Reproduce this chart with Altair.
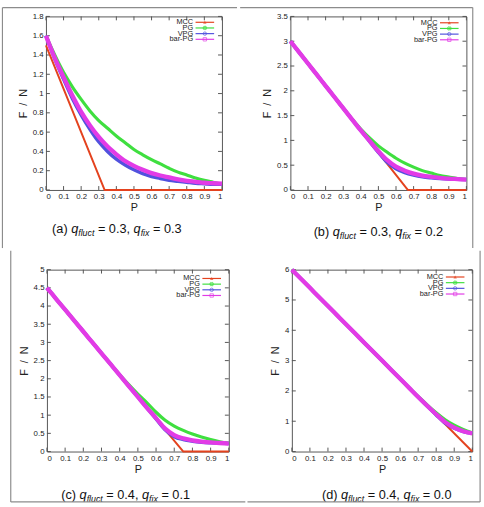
import altair as alt
import pandas as pd

# ---------------- data ----------------
P = [0.0, 0.05, 0.1, 0.15, 0.2, 0.25, 0.3, 0.35, 0.4, 0.45, 0.5,
     0.55, 0.6, 0.65, 0.7, 0.75, 0.8, 0.85, 0.9, 0.95, 1.0]
X_TICKS = [0, 0.1, 0.2, 0.3, 0.4, 0.5, 0.6, 0.7, 0.8, 0.9, 1]
SERIES = ["MCC", "PG", "VPG", "bar-PG"]

A_MCC_P = [0.0, 0.333, 1.0]
A_MCC = [1.5, 0.0, 0.0]
A_PG = [1.60, 1.40, 1.22, 1.07, 0.94, 0.82, 0.72, 0.64, 0.56, 0.49, 0.42,
        0.365, 0.315, 0.27, 0.225, 0.185, 0.155, 0.125, 0.10, 0.08, 0.06]
A_VPG = [1.60, 1.36, 1.15, 0.95, 0.78, 0.63, 0.50, 0.40, 0.32, 0.26, 0.21,
         0.17, 0.14, 0.12, 0.10, 0.09, 0.08, 0.07, 0.065, 0.06, 0.06]
A_BAR = [1.60, 1.37, 1.17, 0.98, 0.81, 0.67, 0.55, 0.45, 0.37, 0.30, 0.25,
         0.21, 0.175, 0.15, 0.13, 0.11, 0.095, 0.085, 0.075, 0.07, 0.065]
A_YT = [0, 0.2, 0.4, 0.6, 0.8, 1, 1.2, 1.4, 1.6, 1.8]

B_MCC_P = [0.0, 0.667, 1.0]
B_MCC = [3.0, 0.0, 0.0]
B_PG = [3.0, 2.775, 2.55, 2.325, 2.1, 1.875, 1.65, 1.43, 1.23, 1.05, 0.89,
        0.76, 0.64, 0.54, 0.46, 0.39, 0.34, 0.29, 0.26, 0.23, 0.21]
B_VPG = [3.0, 2.775, 2.55, 2.325, 2.1, 1.875, 1.65, 1.425, 1.2, 0.98, 0.76,
         0.56, 0.43, 0.35, 0.30, 0.265, 0.245, 0.23, 0.22, 0.215, 0.21]
B_BAR = [3.0, 2.775, 2.55, 2.325, 2.1, 1.875, 1.65, 1.425, 1.2, 0.99, 0.78,
         0.60, 0.47, 0.39, 0.33, 0.29, 0.265, 0.245, 0.23, 0.22, 0.21]
B_YT = [0, 0.5, 1, 1.5, 2, 2.5, 3, 3.5]

C_MCC_P = [0.0, 0.75, 1.0]
C_MCC = [4.5, 0.0, 0.0]
C_PG = [4.5, 4.2, 3.9, 3.6, 3.3, 3.0, 2.7, 2.4, 2.11, 1.84, 1.58,
        1.34, 1.08, 0.86, 0.70, 0.58, 0.48, 0.40, 0.33, 0.27, 0.23]
C_VPG = [4.5, 4.2, 3.9, 3.6, 3.3, 3.0, 2.7, 2.4, 2.1, 1.8, 1.5,
         1.2, 0.90, 0.60, 0.41, 0.33, 0.285, 0.255, 0.24, 0.23, 0.22]
C_BAR = [4.5, 4.2, 3.9, 3.6, 3.3, 3.0, 2.7, 2.4, 2.1, 1.8, 1.5,
         1.2, 0.92, 0.63, 0.45, 0.36, 0.31, 0.275, 0.25, 0.235, 0.22]
C_YT = [0, 0.5, 1, 1.5, 2, 2.5, 3, 3.5, 4, 4.5, 5]

D_MCC_P = [0.0, 1.0]
D_MCC = [6.0, 0.0]
D_PG = [6.0, 5.7, 5.4, 5.1, 4.8, 4.5, 4.2, 3.9, 3.6, 3.3, 3.0,
        2.7, 2.4, 2.1, 1.82, 1.54, 1.28, 1.05, 0.87, 0.73, 0.62]
D_VPG = [6.0, 5.7, 5.4, 5.1, 4.8, 4.5, 4.2, 3.9, 3.6, 3.3, 3.0,
         2.7, 2.4, 2.1, 1.8, 1.50, 1.21, 0.94, 0.77, 0.66, 0.60]
D_BAR = [6.0, 5.7, 5.4, 5.1, 4.8, 4.5, 4.2, 3.9, 3.6, 3.3, 3.0,
         2.7, 2.4, 2.1, 1.8, 1.51, 1.23, 0.97, 0.79, 0.67, 0.60]
D_YT = [0, 1, 2, 3, 4, 5, 6]

CAPTIONS = [("(a)", "0.3", "0.3"), ("(b)", "0.3", "0.2"),
            ("(c)", "0.4", "0.1"), ("(d)", "0.4", "0.0")]

FONT = "Liberation Sans"
COLORS = {"MCC": "#e4421e", "PG": "#3fdf3f", "VPG": "#5151de", "bar-PG": "#e23be6"}
WIDTHS = {"MCC": 2.0, "PG": 3.2, "VPG": 3.6, "bar-PG": 4.4}
SHAPES = {"MCC": "triangle-up", "PG": "cross", "VPG": "circle", "bar-PG": "square"}
TICK = "#555555"
FRAME = "#8c8c8c"
TEXT = "#222222"

AW = {' ': 278, '(': 333, ')': 333, 'a': 556, 'b': 556, 'c': 500, 'd': 556,
      'q': 556, 'f': 278, 'l': 222, 'u': 556, 't': 278, 'i': 222, 'x': 500,
      '=': 584, '.': 278, ',': 278}


def tw(s, size):
    return sum(AW.get(ch, 556) for ch in s) * size / 1000.0


ONE = pd.DataFrame({"k": [0]})
FL, FR, FT, FB = 1.5, 480.5, 1.5, 505.5


def panel(idx, mcc_p, mcc, pg, vpg, bar, yt, ymax, ox, oy, w, h, quad,
          cap_cx, cap_base, leg_top):
    xs = alt.Scale(domain=[0, 1], nice=False, zero=False)
    ys = alt.Scale(domain=[0, ymax], nice=False, zero=False)
    xax = alt.Axis(values=X_TICKS, format="~g", title="P")
    yax = alt.Axis(values=yt, format="~g", title="F\u00a0 /\u00a0 N")
    X = alt.X("P:Q", scale=xs, axis=xax)
    Y = alt.Y("v:Q", scale=ys, axis=yax)
    layers = []

    # invisible rectangle that sets this cell's extent in the grid layout
    qx0, qy0, qx1, qy1 = quad
    layers.append(alt.Chart(ONE).mark_rect(opacity=0).encode(
        x=alt.value(qx0 - ox), x2=alt.value(qx1 - ox),
        y=alt.value(qy0 - oy), y2=alt.value(qy1 - oy)))

    # inward ticks on all four sides
    dfx = pd.DataFrame({"P": X_TICKS})
    dfy = pd.DataFrame({"v": yt})
    layers.append(alt.Chart(dfx).mark_rule(color=TICK, strokeWidth=1).encode(
        x=X, y=alt.value(h), y2=alt.value(h - 4)))
    layers.append(alt.Chart(dfx).mark_rule(color=TICK, strokeWidth=1).encode(
        x=X, y=alt.value(0), y2=alt.value(4)))
    layers.append(alt.Chart(dfy).mark_rule(color=TICK, strokeWidth=1).encode(
        y=Y, x=alt.value(0), x2=alt.value(4)))
    layers.append(alt.Chart(dfy).mark_rule(color=TICK, strokeWidth=1).encode(
        y=Y, x=alt.value(w - 4), x2=alt.value(w)))

    data = [("MCC", mcc_p, mcc), ("PG", P, pg), ("VPG", P, vpg), ("bar-PG", P, bar)]
    for name, px, vals in data:
        df = pd.DataFrame({"P": px, "v": vals})
        interp = "linear" if name == "MCC" else "monotone"
        layers.append(alt.Chart(df).mark_line(
            color=COLORS[name], strokeWidth=WIDTHS[name], interpolate=interp,
            strokeJoin="round").encode(x=X, y=Y))

    # key
    for i, name in enumerate(SERIES):
        yy = leg_top + i * 5.8
        layers.append(alt.Chart(ONE).mark_text(
            text=name, align="right", baseline="middle", fontSize=7.5,
            font=FONT, color=TEXT).encode(x=alt.value(w - 29.5), y=alt.value(yy)))
        layers.append(alt.Chart(ONE).mark_rule(
            color=COLORS[name], strokeWidth=1.2).encode(
            x=alt.value(w - 27), x2=alt.value(w - 8), y=alt.value(yy)))
        layers.append(alt.Chart(ONE).mark_point(
            shape=SHAPES[name], size=12, filled=(name == "MCC"),
            color=COLORS[name], strokeWidth=1,
            angle=45 if name == "PG" else 0).encode(
            x=alt.value(w - 17.5), y=alt.value(yy)))

    # caption with italic subscripts
    letter, qf, qx = CAPTIONS[idx]
    pieces = [(letter + " ", 13, "normal", 0), ("q", 13, "italic", 0),
              ("fluct", 9, "italic", 3), (" = " + qf + ", ", 13, "normal", 0),
              ("q", 13, "italic", 0), ("fix", 9, "italic", 3),
              (" = " + qx, 13, "normal", 0)]
    total = sum(tw(s, fs) for s, fs, _, _ in pieces)
    cx = cap_cx - total / 2.0
    for s, fs, style, dy in pieces:
        lead = len(s) - len(s.lstrip(" "))
        x0 = cx + tw(" " * lead, fs)
        layers.append(alt.Chart(ONE).mark_text(
            text=s.strip(), align="left", baseline="alphabetic", fontSize=fs,
            fontStyle=style, font=FONT, color="#111111").encode(
            x=alt.value(x0 - ox), y=alt.value(cap_base + dy - oy)))
        cx += tw(s, fs)

    # outer figure frame
    def hrule(y, x0, x1):
        return alt.Chart(ONE).mark_rule(color=FRAME, strokeWidth=1.2).encode(
            x=alt.value(x0 - ox), x2=alt.value(x1 - ox), y=alt.value(y - oy))

    def vrule(x, y0, y1):
        return alt.Chart(ONE).mark_rule(color=FRAME, strokeWidth=1.2).encode(
            y=alt.value(y0 - oy), y2=alt.value(y1 - oy), x=alt.value(x - ox))

    if idx == 0:
        layers += [hrule(FT, FL, 241.4), vrule(FL, FT, 247.4)]
    elif idx == 1:
        layers += [hrule(FT, 242.6, FR), vrule(FR, FT, 247.4)]
    elif idx == 2:
        layers += [hrule(FB, FL, 241.4), vrule(FL, 248.6, FB)]
    else:
        layers += [hrule(FB, 242.6, FR), vrule(FR, 248.6, FB)]

    return alt.layer(*layers).properties(width=w, height=h)


pa = panel(0, A_MCC_P, A_MCC, A_PG, A_VPG, A_BAR, A_YT, 1.8,
           46, 10.5, 180, 177.5, (0, 0, 242, 248), 118.5, 232.5, 6)
pb = panel(1, B_MCC_P, B_MCC, B_PG, B_VPG, B_BAR, B_YT, 3.5,
           294, 10.5, 180, 177.5, (242, 0, 484, 248), 384, 235.5, 6.5)
pc = panel(2, C_MCC_P, C_MCC, C_PG, C_VPG, C_BAR, C_YT, 5.0,
           38.5, 268, 186, 186, (0, 248, 242, 506.5), 119, 502.5, 9)
# left extent of (d) reaches back so that the negative spacing below lands it at x=288
pd_ = panel(3, D_MCC_P, D_MCC, D_PG, D_VPG, D_BAR, D_YT, 6.0,
            288, 268, 184.5, 186, (195, 248, 484, 506.5), 385, 502.5, 7.5)

# tiny invisible first cell so that (c) can sit left of (a)
spacer = alt.Chart(ONE).mark_rect(opacity=0).encode(
    x=alt.value(0), x2=alt.value(1), y=alt.value(0), y2=alt.value(1)
).properties(width=1, height=1, view=alt.ViewBackground(strokeOpacity=0))

row1 = alt.hconcat(pa, pb, spacing=0)
row2 = alt.hconcat(spacer, pc, pd_, spacing=-47.5)

chart = alt.vconcat(row1, row2, spacing=0).properties(
    padding=0, background="white"
).configure_view(
    stroke="#555555", strokeWidth=1
).configure_axis(
    domain=False, ticks=False, grid=False,
    labelFont=FONT, labelFontSize=8, labelColor=TEXT, labelPadding=3,
    titleFont=FONT, titleFontSize=11, titleFontWeight="normal", titleColor=TEXT,
    titlePadding=1
).configure_axisY(
    titlePadding=4
)

chart.save("out.html", embed_options={"renderer": "svg", "actions": False})
